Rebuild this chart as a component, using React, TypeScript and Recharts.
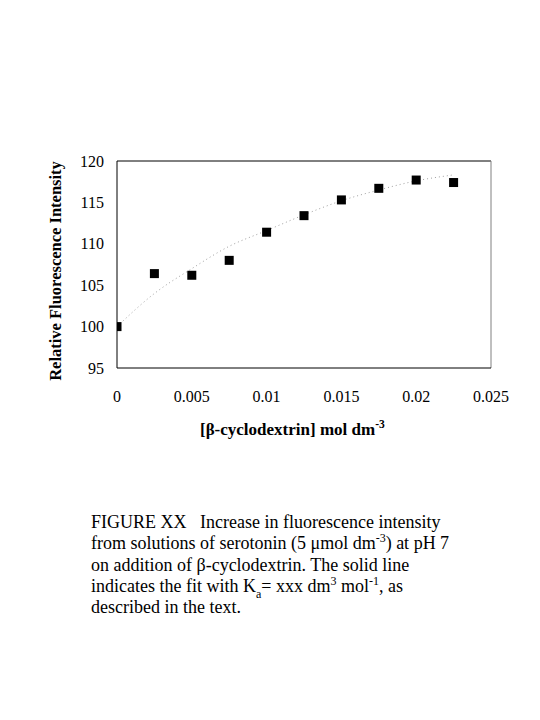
import React from 'react';
import { ComposedChart, Line, Scatter, XAxis, YAxis, ReferenceLine } from 'recharts';

const concentrations = [0, 0.0025, 0.005, 0.0075, 0.01, 0.0125, 0.015, 0.0175, 0.02, 0.0225];
const intensities = [100, 106.4, 106.2, 108.0, 111.4, 113.4, 115.3, 116.7, 117.7, 117.4];
const fitConcentrations = [0, 0.0025, 0.005, 0.0075, 0.01, 0.0125, 0.015, 0.0175, 0.02, 0.0224];
const fitIntensities = [100, 104.0, 107.0, 109.7, 111.6, 113.5, 115.2, 116.5, 117.6, 118.3];
const xTicks = [0, 0.005, 0.01, 0.015, 0.02, 0.025];
const yTicks = [95, 100, 105, 110, 115, 120];

const points = concentrations.map((x, i) => ({ x, y: intensities[i] }));
const fit = fitConcentrations.map((x, i) => ({ x, y: fitIntensities[i] }));

const FONT = '"Liberation Serif", "Times New Roman", serif';

const Square = (props: any) => {
  const { cx, cy } = props;
  if (cx == null || cy == null) return null;
  return <rect x={cx - 4.5} y={cy - 4.5} width={9} height={9} fill="#000" />;
};

const YTitle = () => (
  <text
    x={52.5}
    y={263}
    transform="rotate(-90 52.5 263)"
    textAnchor="middle"
    fontFamily={FONT}
    fontSize={16.5}
    fontWeight="bold"
    fill="#000"
  >
    Relative Fluorescence Intensity
  </text>
);

const XTitle = () => (
  <text x={192} y={427} fontFamily={FONT} fontSize={17} fontWeight="bold" fill="#000">
    [β-cyclodextrin] mol dm
    <tspan fontSize={11.5} dy={-7}>-3</tspan>
  </text>
);

const supStyle: React.CSSProperties = { fontSize: 12, verticalAlign: 'top', lineHeight: '1', position: 'relative', top: -1 };
const subStyle: React.CSSProperties = { fontSize: 12, verticalAlign: 'bottom', lineHeight: '1', position: 'relative', top: 3 };

export default function App() {
  return (
    <div style={{ position: 'relative', width: 524, height: 704, background: '#fff' }}>
      <ComposedChart
        width={524}
        height={440}
        margin={{ top: 153, right: 41, bottom: 50, left: 49 }}
      >
        <XAxis
          dataKey="x"
          type="number"
          domain={[0, 0.025]}
          ticks={xTicks}
          tickFormatter={(v: number) => String(v)}
          allowDataOverflow
          height={30}
          tickSize={0}
          tickMargin={23}
          tickLine={false}
          axisLine={{ stroke: '#000', strokeWidth: 1 }}
          tick={{ fontFamily: FONT, fontSize: 16, fill: '#000' }}
          label={XTitle}
        />
        <YAxis
          dataKey="y"
          type="number"
          domain={[95, 120]}
          ticks={yTicks}
          allowDataOverflow
          width={60}
          tickSize={0}
          tickMargin={13}
          tickLine={false}
          axisLine={{ stroke: '#000', strokeWidth: 1 }}
          tick={{ fontFamily: FONT, fontSize: 16, fill: '#000' }}
          label={YTitle}
        />
        <ReferenceLine y={120} stroke="#000" strokeWidth={1} />
        <ReferenceLine x={0.025} stroke="#808080" strokeWidth={1} />
        <Line
          data={fit}
          dataKey="y"
          type="monotone"
          stroke="#a0a0a0"
          strokeWidth={1}
          strokeDasharray="1 3"
          dot={false}
          activeDot={false}
          isAnimationActive={false}
        />
        <Scatter data={points} dataKey="y" shape={Square} isAnimationActive={false} />
      </ComposedChart>
      <div
        style={{
          position: 'absolute',
          left: 83,
          top: 504,
          fontFamily: FONT,
          fontSize: 18,
          lineHeight: '21.3px',
          color: '#000',
          whiteSpace: 'pre',
        }}
      >
        <div>FIGURE XX   Increase in fluorescence intensity</div>
        <div>
          from solutions of serotonin (5 μmol dm<span style={supStyle}>-3</span>) at pH 7
        </div>
        <div>on addition of β-cyclodextrin. The solid line</div>
        <div>
          indicates the fit with K<span style={subStyle}>a</span>= xxx dm<span style={supStyle}>3</span> mol
          <span style={supStyle}>-1</span>, as
        </div>
        <div>described in the text.</div>
      </div>
    </div>
  );
}
